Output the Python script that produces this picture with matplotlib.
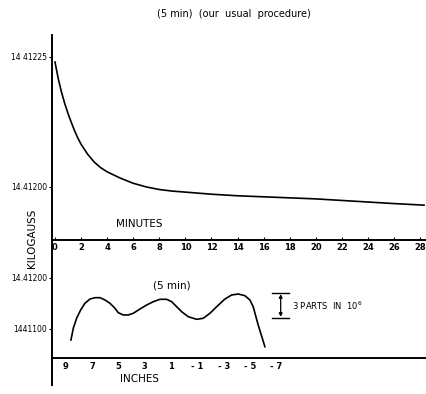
import numpy as np
import matplotlib
matplotlib.use("Agg")
import matplotlib.pyplot as plt

# top panel: field vs time after cycling (5 min)
minutes = [0, 0.25, 0.5, 0.75, 1.0, 1.25, 1.5, 1.75, 2.0, 2.5, 3.0, 3.5, 4.0,
           5.0, 6.0, 7.0, 8.0, 9.0, 10, 12, 14, 16, 18, 20, 22, 24, 26, 28.3]
field_t = [14.412240, 14.412208, 14.412182, 14.412160, 14.412141, 14.412124,
           14.412108, 14.412094, 14.412082, 14.412063, 14.412048, 14.412037,
           14.412029, 14.412017, 14.412007, 14.412000, 14.411995, 14.411992,
           14.411990, 14.411986, 14.411983, 14.411981, 14.411979, 14.411977,
           14.411974, 14.411971, 14.411968, 14.411965]
min_ticks = list(range(0, 29, 2))
top_yticks = [14.41200, 14.41225]
top_ylabels = ["14.41200", "14 41225"]

# bottom panel: field vs position (5 min)
inches = [8.62, 8.44, 8.19, 7.88, 7.56, 7.17, 6.79, 6.41, 6.03, 5.65, 5.27,
          5.02, 4.64, 4.26, 3.88, 3.37, 2.86, 2.36, 1.85, 1.34, 0.96, 0.58,
          0.20, -0.30, -0.94, -1.44, -1.95, -2.46, -3.09, -3.60, -4.10, -4.61,
          -4.99, -5.24, -5.62, -6.13]
field_x = [14.410784, 14.411014, 14.411210, 14.411373, 14.411504, 14.411588,
           14.411614, 14.411614, 14.411569, 14.411504, 14.411406, 14.411320,
           14.411275, 14.411275, 14.411308, 14.411392, 14.411471, 14.411535,
           14.411582, 14.411582, 14.411535, 14.411437, 14.411339, 14.411241,
           14.411190, 14.411210, 14.411308, 14.411437, 14.411588, 14.411667,
           14.411686, 14.411653, 14.411569, 14.411437, 14.411078, 14.410653]
inch_ticks = [9, 7, 5, 3, 1, -1, -3, -5, -7]
bot_yticks = [14.41100, 14.41200]
bot_ylabels = ["1441100", "14.41200"]

W, H = 426, 394
fig = plt.figure(figsize=(W / 100, H / 100), dpi=100)

def frac(x0, y0, x1, y1):
    return [x0 / W, 1 - y1 / H, (x1 - x0) / W, (y1 - y0) / H]

# ---- bottom axes (added first so the top axes' labels sit over it)
ax2 = fig.add_axes(frac(52, 240, 426, 385))
ax2.patch.set_visible(False)
ax2.plot(inches, field_x, color="black", lw=1.2)
ax2.set_xlim(10.06, -18.38)
ax2.set_ylim(14.409902, 14.412745)
for s in ["top", "right"]:
    ax2.spines[s].set_visible(False)
ax2.spines["left"].set_linewidth(1.4)
ax2.spines["bottom"].set_linewidth(1.4)
ax2.spines["bottom"].set_position(("data", 14.410431))
ax2.set_xticks(inch_ticks)
ax2.set_xticklabels([str(v) if v >= 0 else "- " + str(-v) for v in inch_ticks],
                    fontsize=6, fontweight="bold")
ax2.set_yticks(bot_yticks)
ax2.set_yticklabels(bot_ylabels, fontsize=5.5)
ax2.tick_params(axis="x", direction="in", length=0, pad=3)
ax2.tick_params(axis="y", direction="out", length=2.5, width=0.8, pad=1)
ax2.text(2.38, 14.411860, "(5 min)", fontsize=7.5, va="center", ha="left")
ax2.text(4.9, 14.410020, "INCHES", fontsize=7.5, va="center", ha="left")

# scale bar: 3 parts in 10^6
bar_x, bar_lo, bar_hi = -7.33, 14.411210, 14.411712
ax2.annotate("", xy=(bar_x, bar_hi), xytext=(bar_x, bar_lo),
             arrowprops=dict(arrowstyle="<|-|>", color="black", lw=0.9,
                             mutation_scale=5, shrinkA=1, shrinkB=1))
ax2.plot([bar_x + 0.65, bar_x - 0.65], [bar_hi, bar_hi], color="black", lw=1.0)
ax2.plot([bar_x + 0.65, bar_x - 0.65], [bar_lo, bar_lo], color="black", lw=1.0)
ax2.text(-8.2, (bar_hi + bar_lo) / 2, "3 PARTS  IN  10$^6$", fontsize=6,
         va="center", ha="left")

# ---- top axes
ax1 = fig.add_axes(frac(52, 35, 426, 240))
ax1.patch.set_visible(False)
ax1.plot(minutes, field_t, color="black", lw=1.2)
ax1.set_xlim(-0.23, 28.45)
ax1.set_ylim(14.411898, 14.412292)
for s in ["top", "right"]:
    ax1.spines[s].set_visible(False)
ax1.spines["left"].set_linewidth(1.4)
ax1.spines["bottom"].set_linewidth(1.4)
ax1.set_xticks(min_ticks)
ax1.set_xticklabels([str(v) for v in min_ticks], fontsize=6, fontweight="bold")
ax1.set_yticks(top_yticks)
ax1.set_yticklabels(top_ylabels, fontsize=5.5)
ax1.tick_params(axis="x", direction="in", length=2.5, width=0.8, pad=2)
ax1.tick_params(axis="y", direction="out", length=2.5, width=0.8, pad=1)
ax1.text(4.7, 14.411898 + 16 / 205 * (14.412292 - 14.411898), "MINUTES",
         fontsize=7.5, va="center", ha="left")

fig.text(234 / W, 1 - 14 / H, "(5 min)  (our  usual  procedure)", fontsize=7,
         ha="center", va="center")
fig.text(32 / W, 1 - 238 / H, "KILOGAUSS", fontsize=7.5, rotation=90,
         ha="center", va="center")

fig.savefig("out.png", dpi=100)
